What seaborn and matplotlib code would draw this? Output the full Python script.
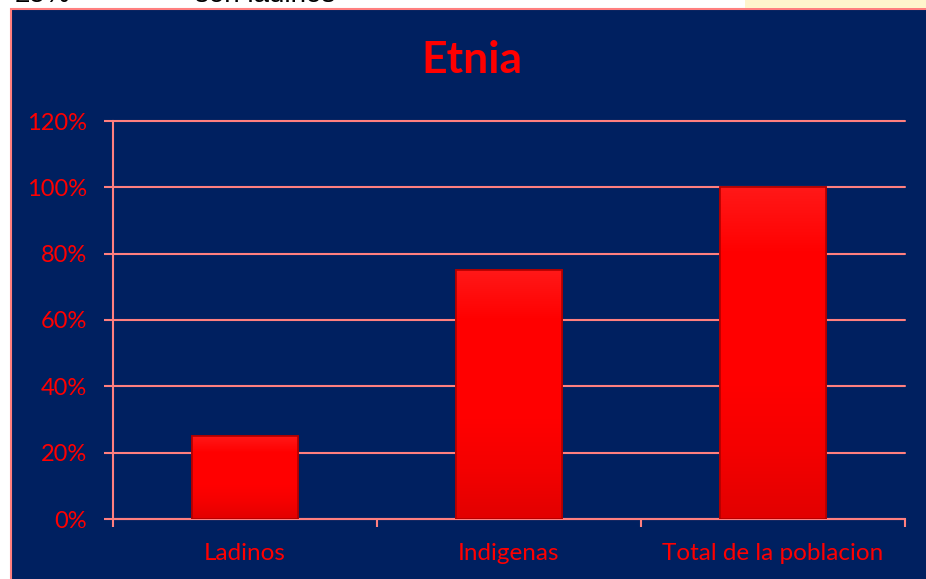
import matplotlib
matplotlib.use("Agg")
import matplotlib.pyplot as plt
import seaborn as sns
import pandas as pd
import numpy as np
from matplotlib.patches import Rectangle
from matplotlib.ticker import FuncFormatter
from matplotlib.colors import LinearSegmentedColormap

categories = ["Ladinos", "Indigenas", "Total de la poblacion"]
values = [25, 75, 100]
title = "Etnia"

sns.set_theme(style="white")
plt.rcParams['font.family'] = ['Lato', 'DejaVu Sans']

NAVY = "#002060"
PINK = "#FF7F7F"
RED = "#FF0000"

fig = plt.figure(figsize=(9.26, 5.79), dpi=100)
fig.patch.set_facecolor("white")

# background panel
fig.patches.append(Rectangle((11/926, -0.01), 1, (579-9)/579 + 0.01, transform=fig.transFigure,
                             facecolor=NAVY, edgecolor=PINK, lw=1.5, zorder=0))
fig.patches.append(Rectangle((745/926, (579-8)/579), 1, 1, transform=fig.transFigure,
                             facecolor="#FFF5CC", edgecolor="none", zorder=0))
fig.text(15/926, (579-2.5)/579, "25%", fontsize=20, color="black", va="baseline", ha="left",
         family="Liberation Sans", zorder=-1)
fig.text(195/926, (579-2.5)/579, "son ladinos", fontsize=20, color="black", va="baseline", ha="left",
         family="Liberation Sans", zorder=-1)

ax = fig.add_axes([113/926, 60/579, (905-113)/926, 398/579])
ax.set_zorder(2)
ax.set_facecolor("none")

df = pd.DataFrame({"cat": categories, "val": values})
sns.barplot(data=df, x="cat", y="val", ax=ax, color=RED, width=0.4,
            edgecolor="#B00000", linewidth=1.2, saturation=1, zorder=3)

# subtle vertical gradient inside each bar
cmap = LinearSegmentedColormap.from_list(
    "barg", ["#E20000", "#F40000", "#FF0000", "#FF0000", "#FF0000", "#FF1818"])
grad = np.linspace(0, 1, 256).reshape(-1, 1)
for p in list(ax.patches):
    x0, y0, w, h = p.get_x(), p.get_y(), p.get_width(), p.get_height()
    im = ax.imshow(grad, cmap=cmap, extent=[x0, x0 + w, y0, y0 + h], origin="lower",
                   aspect="auto", zorder=3.5)
    im.set_clip_path(p)
    p2 = Rectangle((x0, y0), w, h, facecolor="none", edgecolor="#B00000", lw=1.2, zorder=4)
    ax.add_patch(p2)

ax.set_ylim(0, 120)
ax.set_xlim(-0.5, 2.5)
ax.set_aspect("auto")
ax.set_yticks(range(0, 121, 20))
ax.yaxis.set_major_formatter(FuncFormatter(lambda v, p: f"{int(v)}%"))
ax.grid(axis="y", color=PINK, lw=1.5, zorder=1)
for gl in ax.get_ygridlines():
    gl.set_clip_on(False)
ax.set_axisbelow(True)
ax.set_xlabel("")
ax.set_ylabel("")

ax.set_xticks([0, 1, 2])
ax.set_xticklabels(categories)
ax.set_xticks([-0.5, 0.5, 1.5, 2.5], minor=True)
ax.tick_params(axis="x", which="major", length=0, pad=17, labelsize=17.5, labelcolor=RED)
ax.tick_params(axis="x", which="minor", length=6, width=1.5, color=PINK, direction="out", bottom=True)
ax.tick_params(axis="y", length=6.5, width=1.5, color=PINK, direction="out", pad=12,
               labelsize=17, labelcolor=RED, left=True)

for s in ["top", "right"]:
    ax.spines[s].set_visible(False)
for s in ["left", "bottom"]:
    ax.spines[s].set_color(PINK)
    ax.spines[s].set_linewidth(1.5)

fig.text(472/926, (579-60)/579, title, fontsize=32, fontweight="bold", color=RED,
         ha="center", va="center", zorder=5)

fig.savefig("out.png", dpi=100, facecolor=fig.get_facecolor())
